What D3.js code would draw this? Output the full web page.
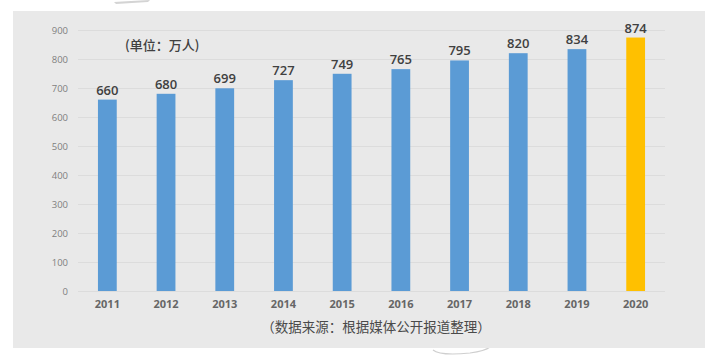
<!DOCTYPE html>
<html><head><meta charset="utf-8">
<script src="https://cdn.jsdelivr.net/npm/d3@7"></script>
<style>html,body{margin:0;padding:0;background:#fff;}svg{display:block;}</style>
</head><body>
<script>
const years = ["2011","2012","2013","2014","2015","2016","2017","2018","2019","2020"];
const values = [660,680,699,727,749,765,795,820,834,874];
const yTicks = [0,100,200,300,400,500,600,700,800,900];
const unitLabel = "(单位：万人)";
const sourceLabel = "（数据来源：根据媒体公开报道整理）";

const W = 725, H = 356;
const svg = d3.select("body").append("svg").attr("width", W).attr("height", H);

// decorative arcs
svg.append("path").attr("d","M114,2 Q130,1 150,0 L148,2 Q132,3 116,4 Z").attr("fill","#d4d4d4");
svg.append("path").attr("d","M433,350 Q440,356 470,353 Q485,351 490,347").attr("fill","none").attr("stroke","#cfcfcf").attr("stroke-width",1.2);

// panel
svg.append("rect").attr("x",13).attr("y",11).attr("width",692).attr("height",337).attr("fill","#e9e9e9");

const x = d3.scaleBand().domain(years).range([78,665]).paddingInner(0.68).paddingOuter(0.34);
const y = d3.scaleLinear().domain([0,900]).range([291,30]);

// gridlines
svg.append("g").selectAll("line").data(yTicks).join("line")
  .attr("x1",78).attr("x2",665).attr("y1",d=>y(d)+0.5).attr("y2",d=>y(d)+0.5)
  .attr("stroke","#dcdcdc").attr("stroke-width",1);

// y axis
const yAxis = svg.append("g").attr("transform","translate(70,0)")
  .call(d3.axisLeft(y).tickValues(yTicks).tickSize(0).tickPadding(2));
yAxis.select(".domain").remove();
yAxis.selectAll("text").attr("fill","#7f7f7f").attr("font-size","9.5px").attr("font-family","Open Sans, Noto Sans, sans-serif");

// x axis
const xAxis = svg.append("g").attr("transform","translate(0,291)")
  .call(d3.axisBottom(x).tickSize(0).tickPadding(9));
xAxis.select(".domain").remove();
xAxis.selectAll("text").attr("fill","#666").attr("font-size","11px").attr("font-weight","bold").attr("font-family","Open Sans, Noto Sans, sans-serif");

// bars
svg.append("g").selectAll("rect").data(values).join("rect")
  .attr("x",(d,i)=>x(years[i])).attr("width",x.bandwidth())
  .attr("y",d=>y(d)).attr("height",d=>y(0)-y(d))
  .attr("fill",(d,i)=>i===years.length-1?"#ffc000":"#5b9bd5");

// value labels
svg.append("g").selectAll("text").data(values).join("text")
  .attr("x",(d,i)=>x(years[i])+x.bandwidth()/2).attr("y",d=>y(d)-5)
  .attr("text-anchor","middle").attr("fill","#404040")
  .attr("font-size","13px").attr("font-weight","600").attr("font-family","Open Sans, Noto Sans, sans-serif")
  .text(d=>d);

// unit label
svg.append("text").attr("x",125).attr("y",50).attr("fill","#404040")
  .attr("font-size","13px").attr("font-weight","500").attr("font-family","Noto Sans CJK SC, sans-serif").text(unitLabel);

// source label
svg.append("text").attr("x",376).attr("y",332).attr("text-anchor","middle").attr("fill","#4a4a4a")
  .attr("font-size","13.5px").attr("font-family","Noto Sans CJK SC, serif").text(sourceLabel);
</script>
</body></html>
